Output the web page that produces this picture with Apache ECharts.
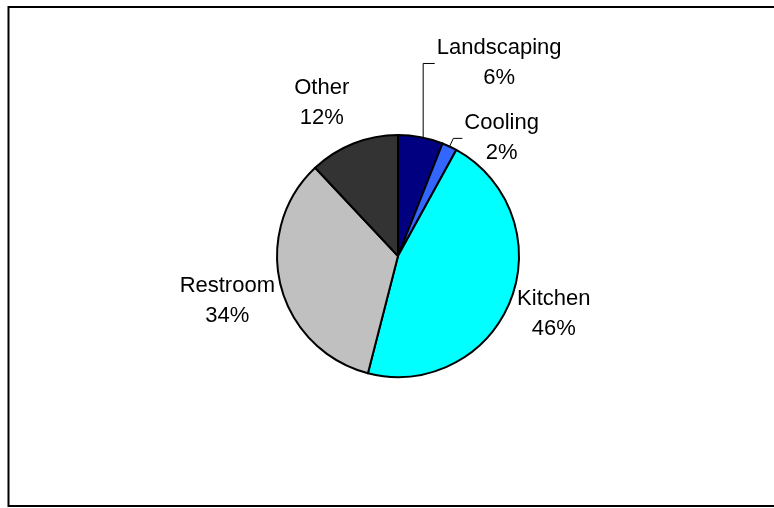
<!DOCTYPE html>
<html>
<head>
<meta charset="utf-8">
<script src="https://cdn.jsdelivr.net/npm/echarts@6/dist/echarts.min.js"></script>
<style>
html,body{margin:0;padding:0;background:#fff;}
#chart{width:774px;height:508px;}
</style>
</head>
<body>
<div id="chart"></div>
<script>
var categories = ['Landscaping', 'Cooling', 'Kitchen', 'Restroom', 'Other'];
var values = [6, 2, 46, 34, 12];
var colors = ['#000080', '#3366FF', '#00FFFF', '#C0C0C0', '#333333'];
// leader line settings per slice: [show, length, length2]
var lineCfg = [[true, 75, 0], [true, 9, 9], [false, 6, 0], [false, 6, 0], [false, 6, 0]];
// label nudges [dx, dy]
var labelNudge = [[0, -1], [0, 0], [-1, 11], [2, 13], [0, -35]];

var chart = echarts.init(document.getElementById('chart'));
var data = categories.map(function (c, i) {
  return {
    name: c,
    value: values[i],
    itemStyle: { color: colors[i] },
    labelLine: { show: lineCfg[i][0], length: lineCfg[i][1], length2: lineCfg[i][2] },
    label: {
      formatter: '{t|{b}}\n{t|{d}%}',
      rich: { t: { align: 'center', fontSize: 22, lineHeight: 30, fontFamily: 'Liberation Sans, Arial, sans-serif', color: '#000' } }
    }
  };
});
chart.setOption({
  animation: false,
  backgroundColor: '#fff',
  graphic: [{
    type: 'rect', shape: { x: 8.5, y: 7, width: 800, height: 499 },
    style: { fill: 'none', stroke: '#000', lineWidth: 2 }, silent: true, z: 100
  }],
  series: [{
    type: 'pie',
    center: [398, 256],
    radius: [0, 121],
    startAngle: 90,
    clockwise: true,
    avoidLabelOverlap: false,
    itemStyle: { borderColor: '#000', borderWidth: 2 },
    label: { show: true, position: 'outside', distanceToLabelLine: 2, edgeDistance: 0 },
    labelLine: { lineStyle: { color: '#000', width: 1 }, smooth: false },
    labelLayout: function (params) {
      var i = params.dataIndex;
      var out = { dx: labelNudge[i][0], dy: labelNudge[i][1] };
      var pts = params.labelLinePoints;
      if (pts && i === 0) {
        var vx = pts[0][0] + 2.5;
        out.labelLinePoints = [[vx, pts[0][1]], [vx, pts[2][1]], [pts[2][0], pts[2][1]]];
      }
      return out;
    },
    data: data
  }]
});
</script>
</body>
</html>
